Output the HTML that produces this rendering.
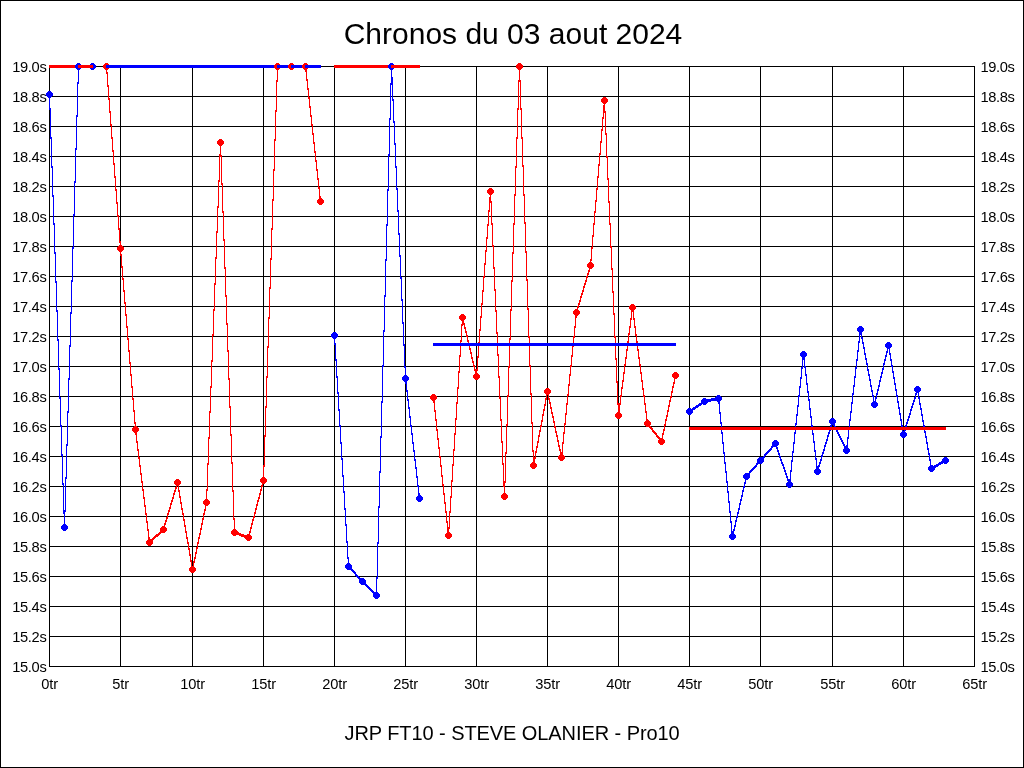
<!DOCTYPE html>
<html><head><meta charset="utf-8"><title>Chronos du 03 aout 2024</title>
<style>
html,body{margin:0;padding:0;background:#fff;}
body{width:1024px;height:768px;overflow:hidden;position:relative;font-family:"Liberation Sans",sans-serif;color:#000;}
svg{position:absolute;left:0;top:0;display:block;}
#txt{position:absolute;left:0;top:0;width:1024px;height:768px;will-change:transform;}
.t{position:absolute;white-space:nowrap;line-height:1;}
.yl{font-size:14.67px;width:60px;text-align:right;letter-spacing:-0.35px;}
.yr{font-size:14.67px;text-align:left;letter-spacing:-0.35px;}
.xl{font-size:14.67px;width:60px;text-align:center;letter-spacing:-0.2px;}
</style></head><body>
<svg width="1024" height="768" viewBox="0 0 1024 768" shape-rendering="crispEdges">
<rect x="0" y="0" width="1024" height="768" fill="#fff"/>
<path fill="#000" d="M0 0h1024v1h-1024zM0 767h1024v1h-1024zM0 0h1v768h-1zM1023 0h1v768h-1z"/>
<path fill="#000" d="M49 66h926v1h-926zM49 96h926v1h-926zM49 126h926v1h-926zM49 156h926v1h-926zM49 186h926v1h-926zM49 216h926v1h-926zM49 246h926v1h-926zM49 276h926v1h-926zM49 306h926v1h-926zM49 336h926v1h-926zM49 366h926v1h-926zM49 396h926v1h-926zM49 426h926v1h-926zM49 456h926v1h-926zM49 486h926v1h-926zM49 516h926v1h-926zM49 546h926v1h-926zM49 576h926v1h-926zM49 606h926v1h-926zM49 636h926v1h-926zM49 666h926v1h-926zM49 66h1v601h-1zM120 66h1v601h-1zM192 66h1v601h-1zM263 66h1v601h-1zM334 66h1v601h-1zM405 66h1v601h-1zM476 66h1v601h-1zM547 66h1v601h-1zM618 66h1v601h-1zM689 66h1v601h-1zM760 66h1v601h-1zM832 66h1v601h-1zM903 66h1v601h-1zM974 66h1v601h-1z"/>
<path fill="#0000ff" d="M46 93h1v3h-1zM47 92h1v5h-1zM48 91h1v7h-1zM49 91h1v19h-1zM50 91h1v7h-1zM50 108h1v31h-1zM51 92h1v5h-1zM51 137h1v31h-1zM52 93h1v3h-1zM52 166h1v31h-1zM53 195h1v30h-1zM54 223h1v31h-1zM55 252h1v31h-1zM56 281h1v31h-1zM57 310h1v31h-1zM58 339h1v31h-1zM59 368h1v31h-1zM60 397h1v30h-1zM61 425h1v31h-1zM61 526h1v3h-1zM62 454h1v31h-1zM62 525h1v5h-1zM63 483h1v31h-1zM63 524h1v7h-1zM64 510h1v21h-1zM65 477h1v35h-1zM65 524h1v7h-1zM66 444h1v35h-1zM66 525h1v5h-1zM67 411h1v35h-1zM67 526h1v3h-1zM68 378h1v35h-1zM69 345h1v35h-1zM70 312h1v35h-1zM71 280h1v34h-1zM72 247h1v35h-1zM73 214h1v35h-1zM74 181h1v35h-1zM75 65h1v3h-1zM75 148h1v35h-1zM76 64h1v5h-1zM76 115h1v35h-1zM77 63h1v7h-1zM77 82h1v35h-1zM78 63h1v21h-1zM79 63h1v7h-1zM80 64h1v5h-1zM81 65h1v3h-1zM82 65h1v3h-1zM83 65h1v3h-1zM84 65h1v3h-1zM85 65h1v3h-1zM86 65h1v3h-1zM87 65h1v3h-1zM88 65h1v3h-1zM89 65h1v3h-1zM90 64h1v5h-1zM91 63h1v7h-1zM92 63h1v7h-1zM93 63h1v7h-1zM94 64h1v5h-1zM95 65h1v3h-1z"/>
<path fill="#ff0000" d="M103 65h1v3h-1zM104 64h1v5h-1zM105 63h1v7h-1zM106 63h1v11h-1zM107 63h1v7h-1zM107 72h1v15h-1zM108 64h1v5h-1zM108 85h1v15h-1zM109 65h1v3h-1zM109 98h1v15h-1zM110 111h1v15h-1zM111 124h1v15h-1zM112 137h1v15h-1zM113 150h1v15h-1zM114 163h1v15h-1zM115 176h1v15h-1zM116 189h1v15h-1zM117 202h1v15h-1zM117 247h1v3h-1zM118 215h1v15h-1zM118 246h1v5h-1zM119 228h1v15h-1zM119 245h1v7h-1zM120 241h1v15h-1zM121 245h1v7h-1zM121 254h1v14h-1zM122 246h1v5h-1zM122 266h1v14h-1zM123 247h1v3h-1zM123 278h1v14h-1zM124 290h1v14h-1zM125 302h1v14h-1zM126 314h1v14h-1zM127 326h1v14h-1zM128 338h1v14h-1zM129 350h1v14h-1zM130 362h1v14h-1zM131 374h1v14h-1zM132 386h1v14h-1zM132 428h1v3h-1zM133 398h1v14h-1zM133 427h1v5h-1zM134 410h1v14h-1zM134 426h1v7h-1zM135 422h1v13h-1zM136 426h1v17h-1zM137 427h1v5h-1zM137 441h1v10h-1zM138 428h1v3h-1zM138 449h1v10h-1zM139 457h1v10h-1zM140 465h1v10h-1zM141 473h1v10h-1zM142 481h1v10h-1zM143 489h1v10h-1zM144 497h1v10h-1zM145 505h1v10h-1zM146 513h1v10h-1zM146 541h1v3h-1zM147 521h1v10h-1zM147 540h1v5h-1zM148 529h1v17h-1zM149 537h1v9h-1zM150 539h1v7h-1zM151 539h1v6h-1zM152 538h1v6h-1zM153 537h1v3h-1zM154 536h1v3h-1zM155 535h1v3h-1zM156 534h1v3h-1zM157 534h1v3h-1zM158 533h1v3h-1zM159 532h1v3h-1zM160 528h1v6h-1zM161 527h1v6h-1zM162 526h1v7h-1zM163 526h1v7h-1zM164 523h1v10h-1zM165 520h1v5h-1zM165 527h1v5h-1zM166 517h1v5h-1zM166 528h1v3h-1zM167 513h1v6h-1zM168 510h1v5h-1zM169 507h1v5h-1zM170 503h1v6h-1zM171 500h1v5h-1zM172 497h1v5h-1zM173 493h1v6h-1zM174 481h1v3h-1zM174 490h1v5h-1zM175 480h1v5h-1zM175 487h1v5h-1zM176 479h1v10h-1zM177 479h1v7h-1zM178 479h1v13h-1zM179 480h1v5h-1zM179 490h1v8h-1zM180 481h1v3h-1zM180 496h1v8h-1zM181 502h1v8h-1zM182 508h1v7h-1zM183 513h1v8h-1zM184 519h1v8h-1zM185 525h1v8h-1zM186 531h1v8h-1zM187 537h1v7h-1zM188 542h1v8h-1zM189 548h1v8h-1zM189 568h1v3h-1zM190 554h1v8h-1zM190 567h1v5h-1zM191 560h1v13h-1zM192 566h1v7h-1zM193 561h1v12h-1zM194 557h1v6h-1zM194 567h1v5h-1zM195 552h1v7h-1zM195 568h1v3h-1zM196 547h1v7h-1zM197 542h1v7h-1zM198 537h1v7h-1zM199 533h1v6h-1zM200 528h1v7h-1zM201 523h1v7h-1zM202 518h1v7h-1zM203 501h1v3h-1zM203 513h1v7h-1zM204 500h1v5h-1zM204 509h1v6h-1zM205 499h1v12h-1zM206 489h1v17h-1zM207 463h1v28h-1zM207 499h1v7h-1zM208 437h1v28h-1zM208 500h1v5h-1zM209 411h1v28h-1zM209 501h1v3h-1zM210 386h1v27h-1zM211 360h1v28h-1zM212 334h1v28h-1zM213 309h1v27h-1zM214 283h1v28h-1zM215 257h1v28h-1zM216 231h1v28h-1zM217 141h1v3h-1zM217 206h1v27h-1zM218 140h1v5h-1zM218 180h1v28h-1zM219 139h1v7h-1zM219 154h1v28h-1zM220 139h1v18h-1zM221 139h1v7h-1zM221 155h1v30h-1zM222 140h1v5h-1zM222 183h1v30h-1zM223 141h1v3h-1zM223 211h1v30h-1zM224 239h1v30h-1zM225 267h1v30h-1zM226 295h1v30h-1zM227 323h1v29h-1zM228 350h1v30h-1zM229 378h1v30h-1zM230 406h1v30h-1zM231 434h1v30h-1zM231 531h1v3h-1zM232 462h1v30h-1zM232 530h1v5h-1zM233 490h1v30h-1zM233 529h1v7h-1zM234 518h1v18h-1zM235 529h1v7h-1zM236 530h1v5h-1zM237 531h1v4h-1zM238 532h1v3h-1zM239 533h1v3h-1zM240 533h1v3h-1zM241 534h1v3h-1zM242 534h1v3h-1zM243 534h1v3h-1zM244 535h1v3h-1zM245 535h1v4h-1zM246 535h1v5h-1zM247 534h1v7h-1zM248 534h1v7h-1zM249 531h1v10h-1zM250 527h1v6h-1zM250 535h1v5h-1zM251 523h1v6h-1zM251 536h1v3h-1zM252 519h1v6h-1zM253 516h1v5h-1zM254 512h1v6h-1zM255 508h1v6h-1zM256 504h1v6h-1zM257 500h1v6h-1zM258 497h1v5h-1zM259 493h1v6h-1zM260 479h1v3h-1zM260 489h1v6h-1zM261 478h1v5h-1zM261 485h1v6h-1zM262 477h1v10h-1zM263 465h1v19h-1zM264 435h1v32h-1zM264 477h1v7h-1zM265 406h1v31h-1zM265 478h1v5h-1zM266 376h1v32h-1zM266 479h1v3h-1zM267 346h1v32h-1zM268 317h1v31h-1zM269 287h1v32h-1zM270 258h1v31h-1zM271 228h1v32h-1zM272 199h1v31h-1zM273 169h1v32h-1zM274 65h1v3h-1zM274 139h1v32h-1zM275 64h1v5h-1zM275 110h1v31h-1zM276 63h1v7h-1zM276 80h1v32h-1zM277 63h1v19h-1zM278 63h1v7h-1zM279 64h1v5h-1zM280 65h1v3h-1zM281 65h1v3h-1zM282 65h1v3h-1zM283 65h1v3h-1zM284 65h1v3h-1zM285 65h1v3h-1zM286 65h1v3h-1zM287 65h1v3h-1zM288 65h1v3h-1zM289 64h1v5h-1zM290 63h1v7h-1zM291 63h1v7h-1zM292 63h1v7h-1zM293 64h1v5h-1zM294 65h1v3h-1zM295 65h1v3h-1zM296 65h1v3h-1zM297 65h1v3h-1zM298 65h1v3h-1zM299 65h1v3h-1zM300 65h1v3h-1zM301 65h1v3h-1zM302 65h1v3h-1zM303 64h1v5h-1zM304 63h1v7h-1zM305 63h1v9h-1zM306 63h1v18h-1zM307 64h1v5h-1zM307 79h1v11h-1zM308 65h1v3h-1zM308 88h1v11h-1zM309 97h1v11h-1zM310 106h1v11h-1zM311 115h1v11h-1zM312 124h1v11h-1zM313 133h1v11h-1zM314 142h1v11h-1zM315 151h1v11h-1zM316 160h1v11h-1zM317 169h1v11h-1zM317 200h1v3h-1zM318 178h1v11h-1zM318 199h1v5h-1zM319 187h1v18h-1zM320 196h1v9h-1zM321 198h1v7h-1zM322 199h1v5h-1zM323 200h1v3h-1z"/>
<path fill="#0000ff" d="M331 334h1v3h-1zM332 333h1v5h-1zM333 332h1v7h-1zM334 332h1v13h-1zM335 332h1v7h-1zM335 343h1v18h-1zM336 333h1v5h-1zM336 359h1v19h-1zM337 334h1v3h-1zM337 376h1v18h-1zM338 392h1v19h-1zM339 409h1v18h-1zM340 425h1v19h-1zM341 442h1v18h-1zM342 458h1v19h-1zM343 475h1v18h-1zM344 491h1v19h-1zM345 508h1v18h-1zM345 565h1v3h-1zM346 524h1v19h-1zM346 564h1v5h-1zM347 541h1v18h-1zM347 563h1v7h-1zM348 557h1v13h-1zM349 563h1v7h-1zM350 564h1v6h-1zM351 565h1v6h-1zM352 569h1v3h-1zM353 570h1v3h-1zM354 571h1v3h-1zM355 572h1v4h-1zM356 574h1v3h-1zM357 575h1v3h-1zM358 576h1v3h-1zM359 577h1v6h-1zM360 578h1v6h-1zM361 578h1v7h-1zM362 578h1v7h-1zM363 578h1v7h-1zM364 579h1v6h-1zM365 580h1v6h-1zM366 584h1v3h-1zM367 585h1v3h-1zM368 586h1v3h-1zM369 587h1v3h-1zM370 588h1v3h-1zM371 589h1v3h-1zM372 590h1v3h-1zM373 591h1v6h-1zM374 592h1v6h-1zM375 592h1v7h-1zM376 577h1v22h-1zM377 542h1v37h-1zM377 592h1v7h-1zM378 506h1v38h-1zM378 593h1v5h-1zM379 471h1v37h-1zM379 594h1v3h-1zM380 436h1v37h-1zM381 401h1v37h-1zM382 365h1v38h-1zM383 330h1v37h-1zM384 295h1v37h-1zM385 259h1v38h-1zM386 224h1v37h-1zM387 189h1v37h-1zM388 65h1v3h-1zM388 154h1v37h-1zM389 64h1v5h-1zM389 118h1v38h-1zM390 63h1v7h-1zM390 83h1v37h-1zM391 63h1v22h-1zM392 63h1v7h-1zM392 77h1v24h-1zM393 64h1v5h-1zM393 99h1v24h-1zM394 65h1v3h-1zM394 121h1v24h-1zM395 143h1v25h-1zM396 166h1v24h-1zM397 188h1v24h-1zM398 210h1v25h-1zM399 233h1v24h-1zM400 255h1v24h-1zM401 277h1v24h-1zM402 299h1v25h-1zM402 377h1v3h-1zM403 322h1v24h-1zM403 376h1v5h-1zM404 344h1v24h-1zM404 375h1v7h-1zM405 366h1v18h-1zM406 375h1v17h-1zM407 376h1v5h-1zM407 390h1v11h-1zM408 377h1v3h-1zM408 399h1v10h-1zM409 407h1v11h-1zM410 416h1v11h-1zM411 425h1v10h-1zM412 433h1v11h-1zM413 442h1v10h-1zM414 450h1v11h-1zM415 459h1v10h-1zM416 467h1v11h-1zM416 497h1v3h-1zM417 476h1v11h-1zM417 496h1v5h-1zM418 485h1v17h-1zM419 493h1v9h-1zM420 495h1v7h-1zM421 496h1v5h-1zM422 497h1v3h-1z"/>
<path fill="#ff0000" d="M430 396h1v3h-1zM431 395h1v5h-1zM432 394h1v7h-1zM433 394h1v9h-1zM434 394h1v18h-1zM435 395h1v5h-1zM435 410h1v11h-1zM436 396h1v3h-1zM436 419h1v12h-1zM437 429h1v11h-1zM438 438h1v11h-1zM439 447h1v11h-1zM440 456h1v11h-1zM441 465h1v12h-1zM442 475h1v11h-1zM443 484h1v11h-1zM444 493h1v11h-1zM445 502h1v11h-1zM445 534h1v3h-1zM446 511h1v12h-1zM446 533h1v5h-1zM447 521h1v18h-1zM448 527h1v12h-1zM449 511h1v18h-1zM449 532h1v7h-1zM450 496h1v17h-1zM450 533h1v5h-1zM451 480h1v18h-1zM451 534h1v3h-1zM452 464h1v18h-1zM453 449h1v17h-1zM454 433h1v18h-1zM455 418h1v17h-1zM456 402h1v18h-1zM457 387h1v17h-1zM458 371h1v18h-1zM459 316h1v3h-1zM459 355h1v18h-1zM460 315h1v5h-1zM460 340h1v17h-1zM461 314h1v7h-1zM461 324h1v18h-1zM462 314h1v12h-1zM463 314h1v11h-1zM464 315h1v5h-1zM464 323h1v6h-1zM465 316h1v3h-1zM465 327h1v6h-1zM466 331h1v6h-1zM467 335h1v7h-1zM468 340h1v6h-1zM469 344h1v6h-1zM470 348h1v6h-1zM471 352h1v7h-1zM472 357h1v6h-1zM473 361h1v6h-1zM473 375h1v3h-1zM474 365h1v6h-1zM474 374h1v5h-1zM475 369h1v11h-1zM476 369h1v11h-1zM477 356h1v15h-1zM477 373h1v7h-1zM478 342h1v16h-1zM478 374h1v5h-1zM479 329h1v15h-1zM479 375h1v3h-1zM480 316h1v15h-1zM481 303h1v15h-1zM482 290h1v15h-1zM483 276h1v16h-1zM484 263h1v15h-1zM485 250h1v15h-1zM486 237h1v15h-1zM487 190h1v3h-1zM487 224h1v15h-1zM488 189h1v5h-1zM488 210h1v16h-1zM489 188h1v7h-1zM489 197h1v15h-1zM490 188h1v15h-1zM491 188h1v7h-1zM491 201h1v24h-1zM492 189h1v5h-1zM492 223h1v24h-1zM493 190h1v3h-1zM493 245h1v24h-1zM494 267h1v24h-1zM495 289h1v23h-1zM496 310h1v24h-1zM497 332h1v24h-1zM498 354h1v24h-1zM499 376h1v23h-1zM500 397h1v24h-1zM501 419h1v24h-1zM501 495h1v3h-1zM502 441h1v24h-1zM502 494h1v5h-1zM503 463h1v24h-1zM503 493h1v7h-1zM504 481h1v19h-1zM505 452h1v31h-1zM505 493h1v7h-1zM506 424h1v30h-1zM506 494h1v5h-1zM507 395h1v31h-1zM507 495h1v3h-1zM508 366h1v31h-1zM509 338h1v30h-1zM510 309h1v31h-1zM511 280h1v31h-1zM512 252h1v30h-1zM513 223h1v31h-1zM514 194h1v31h-1zM515 166h1v30h-1zM516 65h1v3h-1zM516 137h1v31h-1zM517 64h1v5h-1zM517 108h1v31h-1zM518 63h1v7h-1zM518 80h1v30h-1zM519 63h1v19h-1zM520 63h1v7h-1zM520 80h1v30h-1zM521 64h1v5h-1zM521 108h1v31h-1zM522 65h1v3h-1zM522 137h1v30h-1zM523 165h1v31h-1zM524 194h1v30h-1zM525 222h1v31h-1zM526 251h1v30h-1zM527 279h1v31h-1zM528 308h1v30h-1zM529 336h1v31h-1zM530 365h1v30h-1zM530 464h1v3h-1zM531 393h1v31h-1zM531 463h1v5h-1zM532 422h1v30h-1zM532 462h1v7h-1zM533 450h1v19h-1zM534 457h1v12h-1zM535 451h1v8h-1zM535 463h1v5h-1zM536 446h1v7h-1zM536 464h1v3h-1zM537 441h1v7h-1zM538 435h1v8h-1zM539 430h1v7h-1zM540 425h1v7h-1zM541 420h1v7h-1zM542 414h1v8h-1zM543 409h1v7h-1zM544 390h1v3h-1zM544 404h1v7h-1zM545 389h1v5h-1zM545 398h1v8h-1zM546 388h1v12h-1zM547 388h1v7h-1zM548 388h1v12h-1zM549 389h1v5h-1zM549 398h1v6h-1zM550 390h1v3h-1zM550 402h1v7h-1zM551 407h1v7h-1zM552 412h1v6h-1zM553 416h1v7h-1zM554 421h1v7h-1zM555 426h1v7h-1zM556 431h1v6h-1zM557 435h1v7h-1zM558 440h1v7h-1zM558 456h1v3h-1zM559 445h1v6h-1zM559 455h1v5h-1zM560 449h1v12h-1zM561 452h1v9h-1zM562 442h1v19h-1zM563 432h1v12h-1zM563 455h1v5h-1zM564 423h1v11h-1zM564 456h1v3h-1zM565 413h1v12h-1zM566 403h1v12h-1zM567 394h1v11h-1zM568 384h1v12h-1zM569 374h1v12h-1zM570 365h1v11h-1zM571 355h1v12h-1zM572 345h1v12h-1zM573 311h1v3h-1zM573 336h1v11h-1zM574 310h1v5h-1zM574 326h1v12h-1zM575 309h1v19h-1zM576 309h1v9h-1zM577 306h1v10h-1zM578 303h1v5h-1zM578 310h1v5h-1zM579 300h1v5h-1zM579 311h1v3h-1zM580 296h1v6h-1zM581 293h1v5h-1zM582 290h1v5h-1zM583 286h1v6h-1zM584 283h1v5h-1zM585 280h1v5h-1zM586 276h1v6h-1zM587 264h1v3h-1zM587 273h1v5h-1zM588 263h1v5h-1zM588 270h1v5h-1zM589 262h1v10h-1zM590 259h1v10h-1zM591 247h1v14h-1zM591 262h1v7h-1zM592 235h1v14h-1zM592 263h1v5h-1zM593 223h1v14h-1zM593 264h1v3h-1zM594 211h1v14h-1zM595 200h1v13h-1zM596 188h1v14h-1zM597 176h1v14h-1zM598 164h1v14h-1zM599 153h1v13h-1zM600 141h1v14h-1zM601 99h1v3h-1zM601 129h1v14h-1zM602 98h1v5h-1zM602 117h1v14h-1zM603 97h1v7h-1zM603 105h1v14h-1zM604 97h1v16h-1zM605 97h1v7h-1zM605 111h1v24h-1zM606 98h1v5h-1zM606 133h1v25h-1zM607 99h1v3h-1zM607 156h1v24h-1zM608 178h1v25h-1zM609 201h1v24h-1zM610 223h1v25h-1zM611 246h1v24h-1zM612 268h1v25h-1zM613 291h1v24h-1zM614 313h1v25h-1zM615 336h1v24h-1zM615 414h1v3h-1zM616 358h1v25h-1zM616 413h1v5h-1zM617 381h1v24h-1zM617 412h1v7h-1zM618 403h1v16h-1zM619 403h1v16h-1zM620 395h1v10h-1zM620 413h1v5h-1zM621 387h1v10h-1zM621 414h1v3h-1zM622 380h1v9h-1zM623 372h1v10h-1zM624 364h1v10h-1zM625 357h1v9h-1zM626 349h1v10h-1zM627 341h1v10h-1zM628 333h1v10h-1zM629 306h1v3h-1zM629 326h1v9h-1zM630 305h1v5h-1zM630 318h1v10h-1zM631 304h1v16h-1zM632 304h1v8h-1zM633 304h1v16h-1zM634 305h1v5h-1zM634 318h1v10h-1zM635 306h1v3h-1zM635 326h1v10h-1zM636 334h1v9h-1zM637 341h1v10h-1zM638 349h1v10h-1zM639 357h1v9h-1zM640 364h1v10h-1zM641 372h1v10h-1zM642 380h1v10h-1zM643 388h1v9h-1zM644 395h1v10h-1zM644 422h1v3h-1zM645 403h1v10h-1zM645 421h1v5h-1zM646 411h1v16h-1zM647 419h1v8h-1zM648 420h1v7h-1zM649 421h1v7h-1zM650 422h1v3h-1zM650 426h1v3h-1zM651 427h1v3h-1zM652 428h1v4h-1zM653 430h1v3h-1zM654 431h1v3h-1zM655 432h1v3h-1zM656 433h1v4h-1zM657 435h1v3h-1zM658 436h1v3h-1zM658 440h1v3h-1zM659 437h1v7h-1zM660 438h1v7h-1zM661 438h1v7h-1zM662 433h1v12h-1zM663 429h1v6h-1zM663 439h1v5h-1zM664 424h1v7h-1zM664 440h1v3h-1zM665 419h1v7h-1zM666 415h1v6h-1zM667 410h1v7h-1zM668 405h1v7h-1zM669 400h1v7h-1zM670 396h1v6h-1zM671 391h1v7h-1zM672 374h1v3h-1zM672 386h1v7h-1zM673 373h1v5h-1zM673 382h1v6h-1zM674 372h1v12h-1zM675 372h1v7h-1zM676 372h1v7h-1zM677 373h1v5h-1zM678 374h1v3h-1z"/>
<path fill="#0000ff" d="M686 410h1v3h-1zM687 409h1v5h-1zM688 408h1v7h-1zM689 408h1v7h-1zM690 408h1v7h-1zM691 409h1v5h-1zM692 408h1v5h-1zM693 407h1v3h-1zM694 407h1v3h-1zM695 406h1v3h-1zM696 405h1v3h-1zM697 405h1v3h-1zM698 404h1v3h-1zM699 403h1v3h-1zM700 403h1v3h-1zM701 400h1v5h-1zM702 399h1v5h-1zM703 398h1v7h-1zM704 398h1v7h-1zM705 398h1v7h-1zM706 399h1v5h-1zM707 399h1v4h-1zM708 399h1v3h-1zM709 399h1v3h-1zM710 399h1v3h-1zM711 398h1v3h-1zM712 398h1v3h-1zM713 398h1v3h-1zM714 398h1v3h-1zM715 397h1v4h-1zM716 396h1v5h-1zM717 395h1v7h-1zM718 395h1v9h-1zM719 395h1v19h-1zM720 396h1v5h-1zM720 412h1v12h-1zM721 397h1v3h-1zM721 422h1v12h-1zM722 432h1v12h-1zM723 442h1v12h-1zM724 452h1v12h-1zM725 462h1v11h-1zM726 471h1v12h-1zM727 481h1v12h-1zM728 491h1v12h-1zM729 501h1v12h-1zM729 535h1v3h-1zM730 511h1v12h-1zM730 534h1v5h-1zM731 521h1v19h-1zM732 531h1v9h-1zM733 529h1v11h-1zM734 525h1v6h-1zM734 534h1v5h-1zM735 520h1v7h-1zM735 535h1v3h-1zM736 516h1v6h-1zM737 512h1v6h-1zM738 508h1v6h-1zM739 503h1v7h-1zM740 499h1v6h-1zM741 495h1v6h-1zM742 490h1v7h-1zM743 475h1v3h-1zM743 486h1v6h-1zM744 474h1v5h-1zM744 482h1v6h-1zM745 473h1v11h-1zM746 473h1v7h-1zM747 473h1v7h-1zM748 473h1v6h-1zM749 471h1v7h-1zM750 470h1v3h-1zM751 469h1v3h-1zM752 468h1v3h-1zM753 467h1v3h-1zM754 466h1v3h-1zM755 465h1v3h-1zM756 463h1v4h-1zM757 459h1v6h-1zM758 458h1v6h-1zM759 457h1v7h-1zM760 457h1v7h-1zM761 457h1v7h-1zM762 457h1v6h-1zM763 456h1v6h-1zM764 454h1v4h-1zM765 453h1v3h-1zM766 452h1v3h-1zM767 451h1v3h-1zM768 450h1v3h-1zM769 449h1v3h-1zM770 448h1v3h-1zM771 446h1v4h-1zM772 442h1v6h-1zM773 441h1v6h-1zM774 440h1v7h-1zM775 440h1v7h-1zM776 440h1v9h-1zM777 441h1v5h-1zM777 447h1v5h-1zM778 442h1v3h-1zM778 450h1v5h-1zM779 453h1v5h-1zM780 456h1v5h-1zM781 459h1v5h-1zM782 462h1v4h-1zM783 464h1v5h-1zM784 467h1v5h-1zM785 470h1v5h-1zM786 473h1v5h-1zM786 483h1v3h-1zM787 476h1v5h-1zM787 482h1v5h-1zM788 479h1v9h-1zM789 479h1v9h-1zM790 470h1v18h-1zM791 460h1v12h-1zM791 482h1v5h-1zM792 451h1v11h-1zM792 483h1v3h-1zM793 442h1v11h-1zM794 432h1v12h-1zM795 423h1v11h-1zM796 414h1v11h-1zM797 405h1v11h-1zM798 395h1v12h-1zM799 386h1v11h-1zM800 353h1v3h-1zM800 377h1v11h-1zM801 352h1v5h-1zM801 367h1v12h-1zM802 351h1v18h-1zM803 351h1v9h-1zM804 351h1v17h-1zM805 352h1v5h-1zM805 366h1v10h-1zM806 353h1v3h-1zM806 374h1v11h-1zM807 383h1v10h-1zM808 391h1v10h-1zM809 399h1v11h-1zM810 408h1v10h-1zM811 416h1v11h-1zM812 425h1v10h-1zM813 433h1v10h-1zM814 441h1v11h-1zM814 470h1v3h-1zM815 450h1v10h-1zM815 469h1v5h-1zM816 458h1v17h-1zM817 466h1v9h-1zM818 465h1v10h-1zM819 462h1v5h-1zM819 469h1v5h-1zM820 459h1v5h-1zM820 470h1v3h-1zM821 455h1v6h-1zM822 452h1v5h-1zM823 449h1v5h-1zM824 445h1v6h-1zM825 442h1v5h-1zM826 439h1v5h-1zM827 435h1v6h-1zM828 432h1v5h-1zM829 420h1v3h-1zM829 429h1v5h-1zM830 419h1v5h-1zM830 425h1v6h-1zM831 418h1v9h-1zM832 418h1v7h-1zM833 418h1v8h-1zM834 419h1v9h-1zM835 420h1v3h-1zM835 426h1v4h-1zM836 428h1v4h-1zM837 430h1v4h-1zM838 432h1v4h-1zM839 434h1v4h-1zM840 436h1v4h-1zM841 438h1v4h-1zM842 440h1v4h-1zM843 442h1v4h-1zM843 449h1v3h-1zM844 444h1v9h-1zM845 446h1v8h-1zM846 445h1v9h-1zM847 437h1v17h-1zM848 428h1v11h-1zM848 448h1v5h-1zM849 419h1v11h-1zM849 449h1v3h-1zM850 411h1v10h-1zM851 402h1v11h-1zM852 393h1v11h-1zM853 385h1v10h-1zM854 376h1v11h-1zM855 367h1v11h-1zM856 359h1v10h-1zM857 328h1v3h-1zM857 350h1v11h-1zM858 327h1v5h-1zM858 341h1v11h-1zM859 326h1v17h-1zM860 326h1v9h-1zM861 326h1v13h-1zM862 327h1v5h-1zM862 337h1v7h-1zM863 328h1v3h-1zM863 342h1v7h-1zM864 347h1v8h-1zM865 353h1v7h-1zM866 358h1v7h-1zM867 363h1v8h-1zM868 369h1v7h-1zM869 374h1v7h-1zM870 379h1v8h-1zM871 385h1v7h-1zM871 403h1v3h-1zM872 390h1v7h-1zM872 402h1v5h-1zM873 395h1v13h-1zM874 401h1v7h-1zM875 397h1v11h-1zM876 393h1v6h-1zM876 402h1v5h-1zM877 389h1v6h-1zM877 403h1v3h-1zM878 385h1v6h-1zM879 380h1v7h-1zM880 376h1v6h-1zM881 372h1v6h-1zM882 368h1v6h-1zM883 363h1v7h-1zM884 359h1v6h-1zM885 344h1v3h-1zM885 355h1v6h-1zM886 343h1v5h-1zM886 351h1v6h-1zM887 342h1v11h-1zM888 342h1v7h-1zM889 342h1v13h-1zM890 343h1v5h-1zM890 353h1v8h-1zM891 344h1v3h-1zM891 359h1v8h-1zM892 365h1v8h-1zM893 371h1v8h-1zM894 377h1v8h-1zM895 383h1v8h-1zM896 389h1v8h-1zM897 395h1v8h-1zM898 401h1v8h-1zM899 407h1v8h-1zM900 413h1v8h-1zM900 433h1v3h-1zM901 419h1v8h-1zM901 432h1v5h-1zM902 425h1v13h-1zM903 431h1v7h-1zM904 429h1v9h-1zM905 425h1v6h-1zM905 432h1v5h-1zM906 422h1v5h-1zM906 433h1v3h-1zM907 419h1v5h-1zM908 416h1v5h-1zM909 413h1v5h-1zM910 409h1v6h-1zM911 406h1v5h-1zM912 403h1v5h-1zM913 400h1v5h-1zM914 388h1v3h-1zM914 397h1v5h-1zM915 387h1v5h-1zM915 393h1v6h-1zM916 386h1v9h-1zM917 386h1v7h-1zM918 386h1v13h-1zM919 387h1v5h-1zM919 397h1v8h-1zM920 388h1v3h-1zM920 403h1v7h-1zM921 408h1v8h-1zM922 414h1v8h-1zM923 420h1v7h-1zM924 425h1v8h-1zM925 431h1v7h-1zM926 436h1v8h-1zM927 442h1v8h-1zM928 448h1v7h-1zM928 467h1v3h-1zM929 453h1v8h-1zM929 466h1v5h-1zM930 459h1v13h-1zM931 465h1v7h-1zM932 465h1v7h-1zM933 466h1v5h-1zM934 465h1v5h-1zM935 465h1v3h-1zM936 464h1v3h-1zM937 464h1v3h-1zM938 463h1v3h-1zM939 462h1v3h-1zM940 462h1v3h-1zM941 461h1v3h-1zM942 459h1v5h-1zM943 458h1v5h-1zM944 457h1v7h-1zM945 457h1v7h-1zM946 457h1v7h-1zM947 458h1v5h-1zM948 459h1v3h-1z"/>
<rect x="49" y="65" width="44" height="3" fill="#ff0000"/>
<rect x="106" y="65" width="215" height="3" fill="#0000ff"/>
<rect x="334" y="65" width="86" height="3" fill="#ff0000"/>
<rect x="433" y="343" width="243" height="3" fill="#0000ff"/>
<rect x="689" y="427" width="257" height="3" fill="#ff0000"/>
<path fill="#0000ff" d="M46 93h1v3h-1zM47 92h1v5h-1zM48 91h1v7h-1zM61 526h1v3h-1zM62 525h1v5h-1zM63 524h1v7h-1zM75 65h1v3h-1zM76 64h1v5h-1zM77 63h1v7h-1z"/>
<path fill="#ff0000" d="M103 65h1v3h-1zM104 64h1v5h-1zM105 63h1v7h-1zM117 247h1v3h-1zM118 246h1v5h-1zM119 245h1v7h-1zM132 428h1v3h-1zM133 427h1v5h-1zM134 426h1v7h-1zM146 541h1v3h-1zM147 540h1v5h-1zM148 539h1v7h-1zM160 528h1v3h-1zM161 527h1v5h-1zM162 526h1v7h-1zM174 481h1v3h-1zM175 480h1v5h-1zM176 479h1v7h-1zM189 568h1v3h-1zM190 567h1v5h-1zM191 566h1v7h-1zM203 501h1v3h-1zM204 500h1v5h-1zM205 499h1v7h-1zM217 141h1v3h-1zM218 140h1v5h-1zM219 139h1v7h-1zM231 531h1v3h-1zM232 530h1v5h-1zM233 529h1v7h-1zM245 536h1v3h-1zM246 535h1v5h-1zM247 534h1v7h-1zM260 479h1v3h-1zM261 478h1v5h-1zM262 477h1v7h-1zM274 65h1v3h-1zM275 64h1v5h-1zM276 63h1v7h-1zM288 65h1v3h-1zM289 64h1v5h-1zM290 63h1v7h-1zM302 65h1v3h-1zM303 64h1v5h-1zM304 63h1v7h-1z"/>
<path fill="#0000ff" d="M331 334h1v3h-1zM332 333h1v5h-1zM333 332h1v7h-1zM345 565h1v3h-1zM346 564h1v5h-1zM347 563h1v7h-1zM359 580h1v3h-1zM360 579h1v5h-1zM361 578h1v7h-1zM373 594h1v3h-1zM374 593h1v5h-1zM375 592h1v7h-1zM388 65h1v3h-1zM389 64h1v5h-1zM390 63h1v7h-1zM402 377h1v3h-1zM403 376h1v5h-1zM404 375h1v7h-1z"/>
<path fill="#ff0000" d="M430 396h1v3h-1zM431 395h1v5h-1zM432 394h1v7h-1zM445 534h1v3h-1zM446 533h1v5h-1zM447 532h1v7h-1zM459 316h1v3h-1zM460 315h1v5h-1zM461 314h1v7h-1zM473 375h1v3h-1zM474 374h1v5h-1zM475 373h1v7h-1zM487 190h1v3h-1zM488 189h1v5h-1zM489 188h1v7h-1zM501 495h1v3h-1zM502 494h1v5h-1zM503 493h1v7h-1zM516 65h1v3h-1zM517 64h1v5h-1zM518 63h1v7h-1zM530 464h1v3h-1zM531 463h1v5h-1zM532 462h1v7h-1zM544 390h1v3h-1zM545 389h1v5h-1zM546 388h1v7h-1zM558 456h1v3h-1zM559 455h1v5h-1zM560 454h1v7h-1zM573 311h1v3h-1zM574 310h1v5h-1zM575 309h1v7h-1zM587 264h1v3h-1zM588 263h1v5h-1zM589 262h1v7h-1zM601 99h1v3h-1zM602 98h1v5h-1zM603 97h1v7h-1zM615 414h1v3h-1zM616 413h1v5h-1zM617 412h1v7h-1zM629 306h1v3h-1zM630 305h1v5h-1zM631 304h1v7h-1zM644 422h1v3h-1zM645 421h1v5h-1zM646 420h1v7h-1zM658 440h1v3h-1zM659 439h1v5h-1zM660 438h1v7h-1z"/>
<path fill="#0000ff" d="M686 410h1v3h-1zM687 409h1v5h-1zM688 408h1v7h-1zM701 400h1v3h-1zM702 399h1v5h-1zM703 398h1v7h-1zM715 397h1v3h-1zM716 396h1v5h-1zM717 395h1v7h-1zM729 535h1v3h-1zM730 534h1v5h-1zM731 533h1v7h-1zM743 475h1v3h-1zM744 474h1v5h-1zM745 473h1v7h-1zM757 459h1v3h-1zM758 458h1v5h-1zM759 457h1v7h-1zM772 442h1v3h-1zM773 441h1v5h-1zM774 440h1v7h-1zM786 483h1v3h-1zM787 482h1v5h-1zM788 481h1v7h-1zM800 353h1v3h-1zM801 352h1v5h-1zM802 351h1v7h-1zM814 470h1v3h-1zM815 469h1v5h-1zM816 468h1v7h-1zM829 420h1v3h-1zM830 419h1v5h-1zM831 418h1v7h-1zM843 449h1v3h-1zM844 448h1v5h-1zM845 447h1v7h-1zM857 328h1v3h-1zM858 327h1v5h-1zM859 326h1v7h-1zM871 403h1v3h-1zM872 402h1v5h-1zM873 401h1v7h-1zM885 344h1v3h-1zM886 343h1v5h-1zM887 342h1v7h-1zM900 433h1v3h-1zM901 432h1v5h-1zM902 431h1v7h-1zM914 388h1v3h-1zM915 387h1v5h-1zM916 386h1v7h-1zM928 467h1v3h-1zM929 466h1v5h-1zM930 465h1v7h-1z"/>
</svg>
<div id="txt">
<div class="t yl" style="left:-13.649999999999999px;top:60px">19.0s</div><div class="t yr" style="left:980.4px;top:60px">19.0s</div>
<div class="t yl" style="left:-13.649999999999999px;top:90px">18.8s</div><div class="t yr" style="left:980.4px;top:90px">18.8s</div>
<div class="t yl" style="left:-13.649999999999999px;top:120px">18.6s</div><div class="t yr" style="left:980.4px;top:120px">18.6s</div>
<div class="t yl" style="left:-13.649999999999999px;top:150px">18.4s</div><div class="t yr" style="left:980.4px;top:150px">18.4s</div>
<div class="t yl" style="left:-13.649999999999999px;top:180px">18.2s</div><div class="t yr" style="left:980.4px;top:180px">18.2s</div>
<div class="t yl" style="left:-13.649999999999999px;top:210px">18.0s</div><div class="t yr" style="left:980.4px;top:210px">18.0s</div>
<div class="t yl" style="left:-13.649999999999999px;top:240px">17.8s</div><div class="t yr" style="left:980.4px;top:240px">17.8s</div>
<div class="t yl" style="left:-13.649999999999999px;top:270px">17.6s</div><div class="t yr" style="left:980.4px;top:270px">17.6s</div>
<div class="t yl" style="left:-13.649999999999999px;top:300px">17.4s</div><div class="t yr" style="left:980.4px;top:300px">17.4s</div>
<div class="t yl" style="left:-13.649999999999999px;top:330px">17.2s</div><div class="t yr" style="left:980.4px;top:330px">17.2s</div>
<div class="t yl" style="left:-13.649999999999999px;top:360px">17.0s</div><div class="t yr" style="left:980.4px;top:360px">17.0s</div>
<div class="t yl" style="left:-13.649999999999999px;top:390px">16.8s</div><div class="t yr" style="left:980.4px;top:390px">16.8s</div>
<div class="t yl" style="left:-13.649999999999999px;top:420px">16.6s</div><div class="t yr" style="left:980.4px;top:420px">16.6s</div>
<div class="t yl" style="left:-13.649999999999999px;top:450px">16.4s</div><div class="t yr" style="left:980.4px;top:450px">16.4s</div>
<div class="t yl" style="left:-13.649999999999999px;top:480px">16.2s</div><div class="t yr" style="left:980.4px;top:480px">16.2s</div>
<div class="t yl" style="left:-13.649999999999999px;top:510px">16.0s</div><div class="t yr" style="left:980.4px;top:510px">16.0s</div>
<div class="t yl" style="left:-13.649999999999999px;top:540px">15.8s</div><div class="t yr" style="left:980.4px;top:540px">15.8s</div>
<div class="t yl" style="left:-13.649999999999999px;top:570px">15.6s</div><div class="t yr" style="left:980.4px;top:570px">15.6s</div>
<div class="t yl" style="left:-13.649999999999999px;top:600px">15.4s</div><div class="t yr" style="left:980.4px;top:600px">15.4s</div>
<div class="t yl" style="left:-13.649999999999999px;top:630px">15.2s</div><div class="t yr" style="left:980.4px;top:630px">15.2s</div>
<div class="t yl" style="left:-13.649999999999999px;top:660px">15.0s</div><div class="t yr" style="left:980.4px;top:660px">15.0s</div>
<div class="t xl" style="left:19.6px;top:677px">0tr</div>
<div class="t xl" style="left:90.6px;top:677px">5tr</div>
<div class="t xl" style="left:162.6px;top:677px">10tr</div>
<div class="t xl" style="left:233.60000000000002px;top:677px">15tr</div>
<div class="t xl" style="left:304.6px;top:677px">20tr</div>
<div class="t xl" style="left:375.6px;top:677px">25tr</div>
<div class="t xl" style="left:446.6px;top:677px">30tr</div>
<div class="t xl" style="left:517.6px;top:677px">35tr</div>
<div class="t xl" style="left:588.6px;top:677px">40tr</div>
<div class="t xl" style="left:659.6px;top:677px">45tr</div>
<div class="t xl" style="left:730.6px;top:677px">50tr</div>
<div class="t xl" style="left:802.6px;top:677px">55tr</div>
<div class="t xl" style="left:873.6px;top:677px">60tr</div>
<div class="t xl" style="left:944.6px;top:677px">65tr</div>
<div class="t" style="left:0;width:1024px;text-align:center;top:19px;font-size:30px;padding-left:2px;box-sizing:border-box">Chronos du 03 aout 2024</div>
<div class="t" style="left:0;width:1024px;text-align:center;top:723px;font-size:20px;padding-left:0.2px;box-sizing:border-box;letter-spacing:-0.075px">JRP FT10 - STEVE OLANIER - Pro10</div>
</div>
</body></html>
